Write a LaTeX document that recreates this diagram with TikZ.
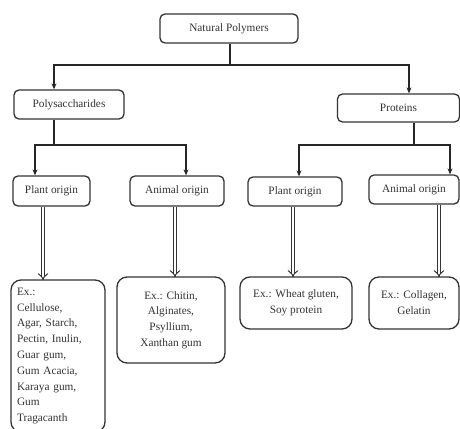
\documentclass[tikz,border=0pt]{standalone}
\usepackage{fontspec}
\setmainfont{Liberation Serif}
\usetikzlibrary{arrows.meta}
\begin{document}
\begin{tikzpicture}[x=1pt,y=-1pt,
  every node/.style={font=\fontsize{11.3}{15.8}\selectfont, text=black!80},
  box/.style={draw=black!80, line width=1.3pt, rounded corners=5pt, inner sep=2pt, align=center},
  exbox/.style={draw=black!80, line width=1.3pt, rounded corners=10pt, inner sep=2pt},
  conn/.style={draw=black!85, line width=1.1pt},
  arr/.style={conn, -{Stealth[length=6pt,width=5pt]}},
  dbl/.style={draw=black!80, line width=1pt, double=white, double distance=2.6pt, -{Implies[length=4pt]}}]
\useasboundingbox (0,0) rectangle (460,428);
\clip (0,0) rectangle (460,428);

% level 0
\node[box, minimum width=138pt, minimum height=29pt] (np) at (229,28.5) {Natural Polymers};
% level 1
\node[box, minimum width=110pt, minimum height=29pt] (poly) at (69,104.5) {Polysaccharides};
\node[box, minimum width=122pt, minimum height=28pt] (prot) at (398.5,108) {Proteins};
% level 2
\node[box, minimum width=77pt, minimum height=30pt] (pl1) at (51.5,191) {Plant origin};
\node[box, minimum width=94pt, minimum height=30pt] (an1) at (177,191) {Animal origin};
\node[box, minimum width=94pt, minimum height=29pt] (pl2) at (295,191.5) {Plant origin};
\node[box, minimum width=90pt, minimum height=29pt] (an2) at (414,189.5) {Animal origin};
% level 3
\node[exbox, minimum width=94pt, minimum height=152pt, text width=82pt, align=left] (ex1) at (58,356)
  {Ex.:\\Cellulose,\\Agar, Starch,\\Pectin, Inulin,\\Guar gum,\\Gum Acacia,\\Karaya gum,\\Gum\\Tragacanth};
\node[exbox, minimum width=108pt, minimum height=86pt, align=center] (ex2) at (171,320)
  {Ex.: Chitin,\\Alginates,\\Psyllium,\\Xanthan gum};
\node[exbox, minimum width=112pt, minimum height=52pt, align=center] (ex3) at (296,303)
  {Ex.: Wheat gluten,\\Soy protein};
\node[exbox, minimum width=90pt, minimum height=52pt, align=center] (ex4) at (414,303)
  {Ex.: Collagen,\\Gelatin};

% junctions
\coordinate (j1) at (230,65);
\coordinate (j2) at (54,145);
\coordinate (j3) at (414,145);

% connectors level 0 -> 1
\draw[conn] (np.south -| j1) -- (j1);
\draw[arr] (j1) -| ([xshift=-15pt]poly.north);
\draw[arr] (j1) -| ([xshift=10.5pt]prot.north);
% level 1 -> 2
\draw[conn] ([xshift=-15pt]poly.south) -- (j2);
\draw[arr] (j2) -| ([xshift=-16.5pt]pl1.north);
\draw[arr] (j2) -| ([xshift=9pt]an1.north);
\draw[conn] ([xshift=15.5pt]prot.south) -- (j3);
\draw[arr] (j3) -| ([xshift=4pt]pl2.north);
\draw[arr] (j3) -| ([xshift=36pt]an2.north);
% level 2 -> 3
\draw[dbl] ([xshift=-8.5pt]pl1.south) -- ([xshift=-8.5pt,yshift=-1pt]pl1.south |- ex1.north);
\draw[dbl] ([xshift=-2pt]an1.south) -- ([xshift=-2pt,yshift=-1pt]an1.south |- ex2.north);
\draw[dbl] ([xshift=-2pt]pl2.south) -- ([xshift=-2pt,yshift=-1pt]pl2.south |- ex3.north);
\draw[dbl] ([xshift=25pt]an2.south) -- ([xshift=25pt,yshift=-1pt]an2.south |- ex4.north);
\end{tikzpicture}
\end{document}
